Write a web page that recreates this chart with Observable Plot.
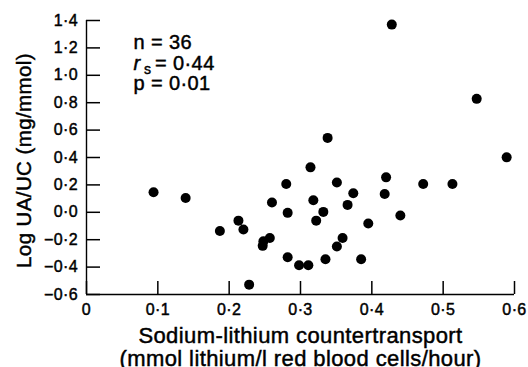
<!DOCTYPE html>
<html>
<head>
<meta charset="utf-8">
<script src="https://cdn.jsdelivr.net/npm/d3@7"></script>
<script src="https://cdn.jsdelivr.net/npm/@observablehq/plot@0.6"></script>
<style>
  html, body { margin: 0; padding: 0; background: #fff; }
  svg text { letter-spacing: 0.4px; stroke: #000; stroke-width: 0.45px; }
</style>
</head>
<body>
<div id="chart"></div>
<script>
// Sodium-lithium countertransport (x) vs Log UA/UC (y), 36 subjects
const sodiumLithium = [0.094, 0.139, 0.187, 0.213, 0.220, 0.228, 0.247, 0.248, 0.257, 0.260,
  0.280, 0.282, 0.282, 0.298, 0.311, 0.314, 0.318, 0.322, 0.332, 0.335,
  0.338, 0.351, 0.351, 0.359, 0.366, 0.374, 0.385, 0.395, 0.418, 0.420,
  0.428, 0.440, 0.472, 0.513, 0.547, 0.589];
const logUAUC = [0.146, 0.105, -0.136, -0.061, -0.126, -0.528, -0.245, -0.212, -0.187, 0.071,
  0.207, -0.004, -0.328, -0.387, -0.387, 0.328, 0.088, -0.061, 0.003, -0.343,
  0.543, 0.217, -0.250, -0.187, 0.054, 0.139, -0.343, -0.082, 0.134, 0.255,
  1.370, -0.024, 0.207, 0.207, 0.828, 0.401];

const xTicks = [0, 0.1, 0.2, 0.3, 0.4, 0.5, 0.6];
const yTicks = [-0.6, -0.4, -0.2, 0.0, 0.2, 0.4, 0.6, 0.8, 1.0, 1.2, 1.4];
const xLabelLines = ["Sodium-lithium countertransport", "(mmol lithium/l red blood cells/hour)"];
const yLabel = "Log UA/UC (mg/mmol)";
const statN = "n = 36";
const statR = ["r", "s", "= 0·44"];
const statP = "p = 0·01";

const data = sodiumLithium.map((x, i) => ({x, y: logUAUC[i]}));
const fmt = (d) => d.toFixed(1).replace(".", "·").replace("-", "\u2212");
const fmtX = (d) => d === 0 ? "0" : fmt(d);
const font = "'Liberation Sans', Arial, Helvetica, sans-serif";

const W = 528, H = 367, mL = 86, mR = 14, mT = 20, mB = 73;
const frameW = W - mL - mR, frameH = H - mT - mB;
const xDomain = [0, 0.6], yDomain = [-0.6, 1.4];
const xTickLen = 13, yTickLen = 14; // pixels, pointing inward
const xTickData = xTickLen * (yDomain[1] - yDomain[0]) / frameH;

const plot = Plot.plot({
  width: W,
  height: H,
  marginLeft: mL,
  marginRight: mR,
  marginTop: mT,
  marginBottom: mB,
  style: {fontFamily: font, background: "#fff", color: "#000"},
  x: {domain: xDomain},
  y: {domain: yDomain},
  marks: [
    Plot.ruleX([xDomain[0]], {stroke: "#000", strokeWidth: 1.4}),
    Plot.ruleY([yDomain[0]], {stroke: "#000", strokeWidth: 1.4}),
    Plot.ruleX(xTicks, {x: (d) => d, y1: yDomain[0], y2: yDomain[0] + xTickData, stroke: "#000", strokeWidth: 1.5}),
    Plot.tickY(yTicks, {y: (d) => d, insetRight: frameW - yTickLen, stroke: "#000", strokeWidth: 1.5}),
    Plot.axisX(xTicks, {tickSize: 0, tickPadding: 9, tickFormat: fmtX, fontSize: 16, label: null, fill: "#000"}),
    Plot.axisY(yTicks, {tickSize: 0, tickPadding: 8.5, tickFormat: fmt, fontSize: 16, label: null, fill: "#000"}),
    Plot.dot(data, {x: "x", y: "y", r: 5, fill: "#000", stroke: null}),
    Plot.text([xLabelLines.join("\n")], {frameAnchor: "bottom", textAnchor: "middle", lineAnchor: "top", dy: 33, fontSize: 22, lineHeight: 1.02, fill: "#000"}),
    Plot.text([yLabel], {frameAnchor: "left", textAnchor: "middle", rotate: -90, lineAnchor: "middle", dx: -62, dy: 3, fontSize: 20.5, fill: "#000"}),
    Plot.text([statN], {frameAnchor: "top-left", textAnchor: "start", lineAnchor: "bottom", dx: 47, dy: 28.3, fontSize: 20, fill: "#000"}),
    Plot.text([statR[0]], {frameAnchor: "top-left", textAnchor: "start", lineAnchor: "bottom", dx: 47, dy: 49, fontSize: 20, fontStyle: "italic", fill: "#000"}),
    Plot.text([statR[1]], {frameAnchor: "top-left", textAnchor: "start", lineAnchor: "bottom", dx: 57.5, dy: 53, fontSize: 14, fill: "#000"}),
    Plot.text([statR[2]], {frameAnchor: "top-left", textAnchor: "start", lineAnchor: "bottom", dx: 68.5, dy: 49, fontSize: 20, fill: "#000"}),
    Plot.text([statP], {frameAnchor: "top-left", textAnchor: "start", lineAnchor: "bottom", dx: 47, dy: 69.3, fontSize: 20, fill: "#000"})
  ]
});
document.getElementById("chart").appendChild(plot);
</script>
</body>
</html>
